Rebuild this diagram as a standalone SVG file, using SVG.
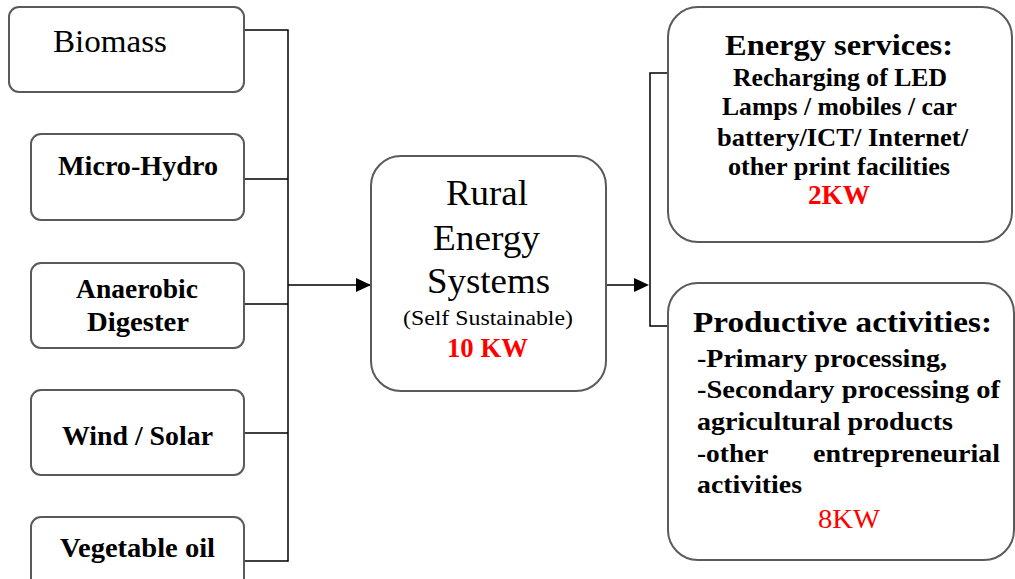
<svg xmlns="http://www.w3.org/2000/svg" width="1015" height="579" viewBox="0 0 1015 579">
<defs>
<style>
.box{fill:#fff;stroke:#5a5a5a;stroke-width:2}
.ln{fill:none;stroke:#000;stroke-width:1.5}
.t{font-family:"Liberation Serif","Times New Roman",serif;fill:#000}
.b{font-weight:bold}
.red{fill:#ff0000}
</style>
</defs>
<rect width="1015" height="579" fill="#fff"/>
<g id="connectors">
<path class="ln" d="M244 30H288V561H244M244 179H288M244 304H288M244 433H288M288 285H395"/>
<polygon points="356,278 371,285 356,292" fill="#000"/>
<path class="ln" d="M607 285H636M668 73H650V326H670"/>
<polygon points="634,278 649,285 634,292" fill="#000"/>
</g>
<g id="biomass">
<rect class="box" x="9" y="7" width="235" height="85" rx="10"/>
<text class="t" x="53" y="52" font-size="32" textLength="114" lengthAdjust="spacingAndGlyphs">Biomass</text>
</g>
<g id="micro-hydro">
<rect class="box" x="31" y="134" width="213" height="86" rx="10"/>
<text class="t b" x="58" y="175" font-size="27" textLength="160" lengthAdjust="spacingAndGlyphs">Micro-Hydro</text>
</g>
<g id="anaerobic">
<rect class="box" x="31" y="263" width="213" height="85" rx="10"/>
<text class="t b" x="76" y="298" font-size="27" textLength="122" lengthAdjust="spacingAndGlyphs">Anaerobic</text>
<text class="t b" x="87" y="331" font-size="27" textLength="102" lengthAdjust="spacingAndGlyphs">Digester</text>
</g>
<g id="wind-solar">
<rect class="box" x="31" y="390" width="213" height="85" rx="10"/>
<text class="t b" x="62" y="445" font-size="27" textLength="151" lengthAdjust="spacingAndGlyphs">Wind / Solar</text>
</g>
<g id="vegetable-oil">
<rect class="box" x="31" y="517" width="213" height="90" rx="10"/>
<text class="t b" x="60" y="557" font-size="27" textLength="155" lengthAdjust="spacingAndGlyphs">Vegetable oil</text>
</g>
<g id="rural-energy">
<rect class="box" x="371" y="156" width="235" height="235" rx="30"/>
<text class="t" x="446" y="205" font-size="36" textLength="82" lengthAdjust="spacingAndGlyphs">Rural</text>
<text class="t" x="433" y="250" font-size="36" textLength="107" lengthAdjust="spacingAndGlyphs">Energy</text>
<text class="t" x="427" y="293" font-size="36" textLength="123" lengthAdjust="spacingAndGlyphs">Systems</text>
<text class="t" x="403" y="325" font-size="22" textLength="170" lengthAdjust="spacingAndGlyphs">(Self Sustainable)</text>
<text class="t b red" x="447" y="357" font-size="27" textLength="81" lengthAdjust="spacingAndGlyphs">10 KW</text>
</g>
<g id="energy-services">
<rect class="box" x="668" y="7" width="344" height="235" rx="30"/>
<text class="t b" x="725" y="55" font-size="30" textLength="228" lengthAdjust="spacingAndGlyphs">Energy services:</text>
<text class="t b" x="733" y="86" font-size="26" textLength="214" lengthAdjust="spacingAndGlyphs">Recharging of LED</text>
<text class="t b" x="722" y="115" font-size="26" textLength="235" lengthAdjust="spacingAndGlyphs">Lamps / mobiles / car</text>
<text class="t b" x="717" y="146" font-size="26" textLength="251" lengthAdjust="spacingAndGlyphs">battery/ICT/ Internet/</text>
<text class="t b" x="728" y="175" font-size="26" textLength="222" lengthAdjust="spacingAndGlyphs">other print facilities</text>
<text class="t b red" x="808" y="204" font-size="27" textLength="62" lengthAdjust="spacingAndGlyphs">2KW</text>
</g>
<g id="productive">
<rect class="box" x="668" y="283" width="346" height="277" rx="30"/>
<text class="t b" x="693" y="332" font-size="30" textLength="299" lengthAdjust="spacingAndGlyphs">Productive activities:</text>
<text class="t b" x="697" y="367" font-size="26" textLength="250" lengthAdjust="spacingAndGlyphs">-Primary processing,</text>
<text class="t b" x="697" y="398" font-size="26" textLength="303" lengthAdjust="spacingAndGlyphs">-Secondary processing of</text>
<text class="t b" x="697" y="430" font-size="26" textLength="256" lengthAdjust="spacingAndGlyphs">agricultural products</text>
<text class="t b" font-size="26" y="462"><tspan x="697" textLength="71" lengthAdjust="spacingAndGlyphs">-other</tspan> <tspan x="813" textLength="187" lengthAdjust="spacingAndGlyphs">entrepreneurial</tspan></text>
<text class="t b" x="697" y="493" font-size="26" textLength="105" lengthAdjust="spacingAndGlyphs">activities</text>
<text class="t red" x="818" y="528" font-size="28" textLength="62" lengthAdjust="spacingAndGlyphs">8KW</text>
</g>
</svg>
